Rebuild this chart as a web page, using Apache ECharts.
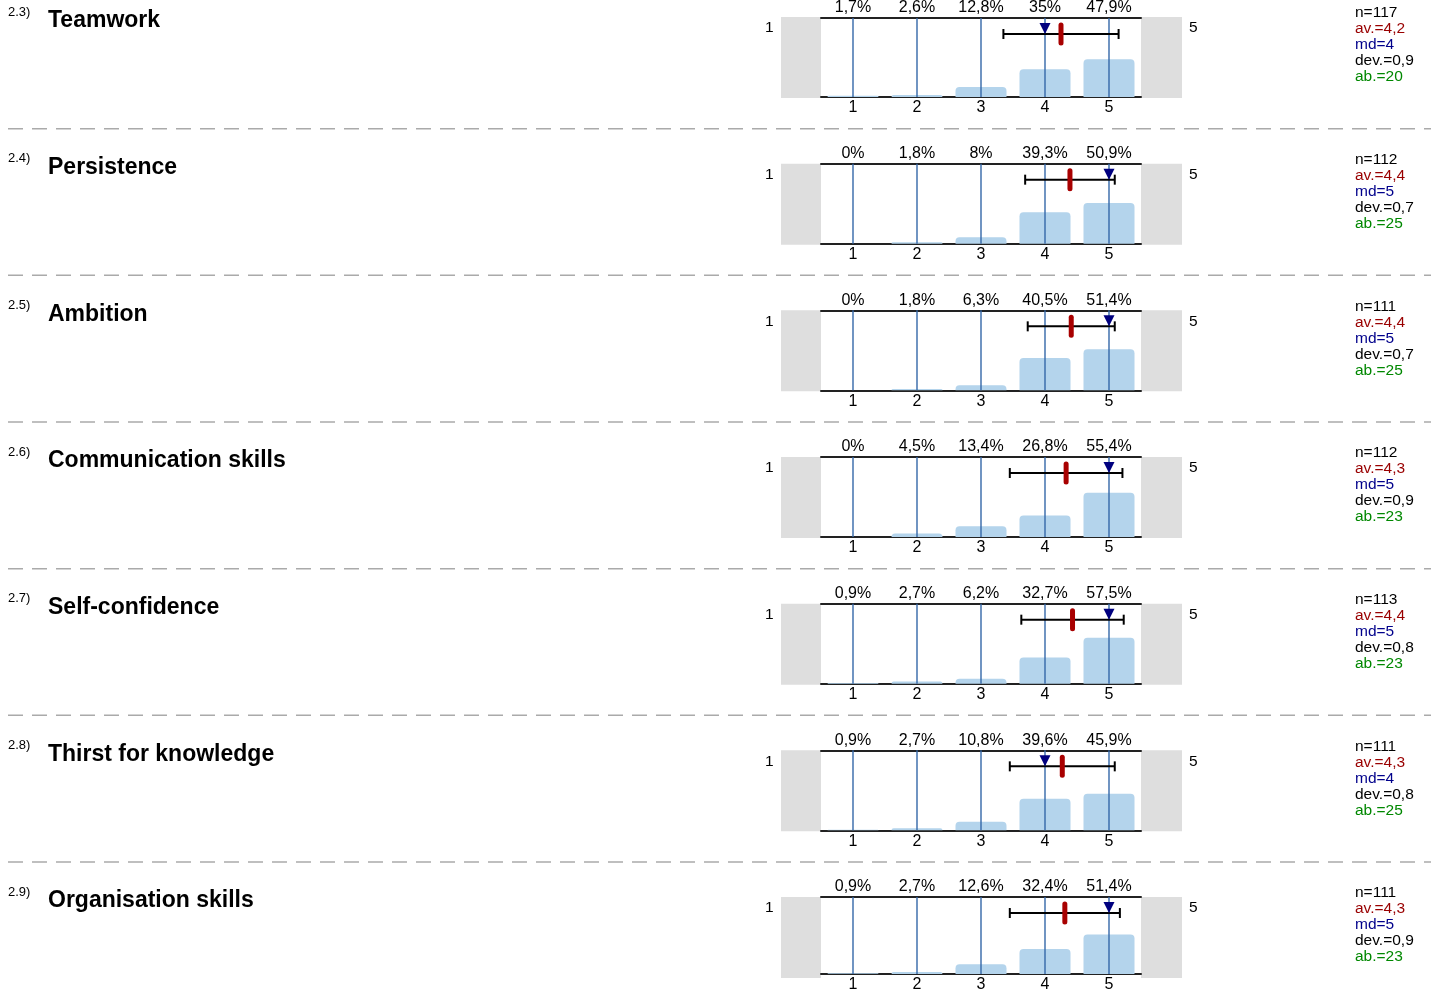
<!DOCTYPE html>
<html>
<head>
<meta charset="utf-8">
<script src="https://cdn.jsdelivr.net/npm/echarts@6/dist/echarts.min.js"></script>
<style>
    html, body { margin: 0; padding: 0; background: #fff; }
    #mychart { width: 1431px; height: 993px; }
</style>
</head>
<body>
<div id="mychart"></div>
<script>
// question data, one entry per panel
var numbers = ['2.3)', '2.4)', '2.5)', '2.6)', '2.7)', '2.8)', '2.9)'];
var titles = ['Teamwork', 'Persistence', 'Ambition', 'Communication skills',
    'Self-confidence', 'Thirst for knowledge', 'Organisation skills'];
var categories = ['1', '2', '3', '4', '5'];

var pctTeamwork = [1.7, 2.6, 12.8, 35, 47.9];
var pctPersistence = [0, 1.8, 8, 39.3, 50.9];
var pctAmbition = [0, 1.8, 6.3, 40.5, 51.4];
var pctCommunication = [0, 4.5, 13.4, 26.8, 55.4];
var pctConfidence = [0.9, 2.7, 6.2, 32.7, 57.5];
var pctKnowledge = [0.9, 2.7, 10.8, 39.6, 45.9];
var pctOrganisation = [0.9, 2.7, 12.6, 32.4, 51.4];
var percents = [pctTeamwork, pctPersistence, pctAmbition, pctCommunication,
    pctConfidence, pctKnowledge, pctOrganisation];

var nValues = [117, 112, 111, 112, 113, 111, 111];
var means = [4.25, 4.39, 4.41, 4.33, 4.43, 4.27, 4.31];
var avLabels = ['4,2', '4,4', '4,4', '4,3', '4,4', '4,3', '4,3'];
var medians = [4, 5, 5, 5, 5, 4, 5];
var devs = [0.9, 0.7, 0.68, 0.88, 0.8, 0.82, 0.86];
var devLabels = ['0,9', '0,7', '0,7', '0,9', '0,8', '0,8', '0,9'];
var abstentions = [20, 25, 25, 23, 23, 25, 23];

var FONT = '"Liberation Sans", Arial, sans-serif';
var step = 146.67;
var gridTop = 17, gridH = 80, gridLeft = 821, gridW = 320;

var grids = [], xAxes = [], yAxes = [], series = [], graphics = [];

function fmtPct(v) {
    return String(v).replace('.', ',') + '%';
}

// vertical guide line on each category
function renderGuide(params, api) {
    var a = api.coord([api.value(0), 0]);
    var b = api.coord([api.value(0), 100]);
    return {
        type: 'line',
        shape: {x1: a[0], y1: a[1], x2: a[0], y2: b[1]},
        style: {stroke: '#3467a8', lineWidth: 1.4}
    };
}

// mean +- dev bar, mean marker and median triangle
function renderStats(params, api) {
    var c0 = api.coord([0, 100]);
    var c1 = api.coord([1, 100]);
    var unit = c1[0] - c0[0];
    var toX = function (v) { return c0[0] + (v - 1) * unit; };
    var m = api.value(2), d = api.value(3), md = api.value(4);
    var xm = toX(m), xl = toX(m - d), xr = toX(m + d), xmd = toX(md);
    var y0 = c0[1];
    var y = y0 + 16;
    return {
        type: 'group',
        children: [
            {type: 'line', shape: {x1: xl, y1: y, x2: xr, y2: y},
                style: {stroke: '#000', lineWidth: 2}},
            {type: 'line', shape: {x1: xl, y1: y - 5, x2: xl, y2: y + 5},
                style: {stroke: '#000', lineWidth: 2}},
            {type: 'line', shape: {x1: xr, y1: y - 5, x2: xr, y2: y + 5},
                style: {stroke: '#000', lineWidth: 2}},
            {type: 'polygon',
                shape: {points: [[xmd - 5.5, y0 + 5], [xmd + 5.5, y0 + 5], [xmd, y]]},
                style: {fill: '#00007f'}},
            {type: 'line', shape: {x1: xm, y1: y - 9, x2: xm, y2: y + 9},
                style: {stroke: '#a80000', lineWidth: 5, lineCap: 'round'}}
        ]
    };
}

for (var i = 0; i < titles.length; i++) {
    var panelTop = gridTop + i * step;
    grids.push({left: gridLeft, top: panelTop, width: gridW, height: gridH});

    // bottom category axis (1..5)
    xAxes.push({
        type: 'category', gridIndex: i, position: 'bottom', data: categories,
        axisLine: {lineStyle: {color: '#222', width: 2}},
        axisTick: {show: false},
        axisLabel: {color: '#000', fontSize: 16, fontFamily: FONT, margin: 3}
    });
    // top category axis carrying percentages
    xAxes.push({
        type: 'category', gridIndex: i, position: 'top',
        data: percents[i].map(fmtPct),
        axisLine: {show: true, lineStyle: {color: '#222', width: 2}},
        axisTick: {show: false},
        axisLabel: {color: '#000', fontSize: 16, fontFamily: FONT, margin: 2}
    });
    yAxes.push({type: 'value', gridIndex: i, min: 0, max: 100, show: false});

    series.push({
        type: 'bar', xAxisIndex: 2 * i, yAxisIndex: i,
        data: percents[i], barWidth: 51, silent: true,
        itemStyle: {color: '#b4d4ec', borderRadius: [4, 4, 0, 0]},
        z: 2
    });
    series.push({
        type: 'custom', xAxisIndex: 2 * i, yAxisIndex: i, silent: true, z: 3,
        data: categories.map(function (c) { return [c, 100]; }),
        renderItem: renderGuide
    });
    series.push({
        type: 'custom', xAxisIndex: 2 * i, yAxisIndex: i, silent: true, z: 4,
        encode: {x: 0, y: 1},
        data: [[categories[0], 100, means[i], devs[i], medians[i]]],
        renderItem: renderStats
    });

    // side boxes and labels
    graphics.push({type: 'rect', shape: {x: 781, y: panelTop, width: 40, height: gridH + 1},
        style: {fill: '#dedede'}, z: 0});
    graphics.push({type: 'rect', shape: {x: 1141, y: panelTop, width: 41, height: gridH + 1},
        style: {fill: '#dedede'}, z: 0});
    graphics.push({type: 'text', x: 765, y: panelTop + 11,
        style: {text: '1', font: '15.5px ' + FONT, fill: '#000', verticalAlign: 'middle'}});
    graphics.push({type: 'text', x: 1189, y: panelTop + 11,
        style: {text: '5', font: '15.5px ' + FONT, fill: '#000', verticalAlign: 'middle'}});
    graphics.push({type: 'text', x: 8, y: panelTop - 5,
        style: {text: numbers[i], font: '13px ' + FONT, fill: '#000', verticalAlign: 'middle'}});
    graphics.push({type: 'text', x: 48, y: panelTop + 4,
        style: {text: titles[i], font: 'bold 23px ' + FONT, fill: '#000', verticalAlign: 'middle'}});

    var stats = [
        ['n=' + nValues[i], '#000'],
        ['av.=' + avLabels[i], '#990000'],
        ['md=' + medians[i], '#00008b'],
        ['dev.=' + devLabels[i], '#000'],
        ['ab.=' + abstentions[i], '#008800']
    ];
    for (var k = 0; k < stats.length; k++) {
        graphics.push({type: 'text', x: 1355, y: panelTop - 4 + k * 16,
            style: {text: stats[k][0], font: '15.5px ' + FONT, fill: stats[k][1], verticalAlign: 'middle'}});
    }

    if (i > 0) {
        var sy = panelTop - 35;
        graphics.push({type: 'line', shape: {x1: 8, y1: sy, x2: 1431, y2: sy},
            style: {stroke: '#aaa', lineWidth: 1.5, lineDash: [15, 9]}});
    }
}

var mychart = echarts.init(document.getElementById('mychart'));
mychart.setOption({
    animation: false,
    grid: grids,
    xAxis: xAxes,
    yAxis: yAxes,
    series: series,
    graphic: graphics
});
</script>
</body>
</html>
